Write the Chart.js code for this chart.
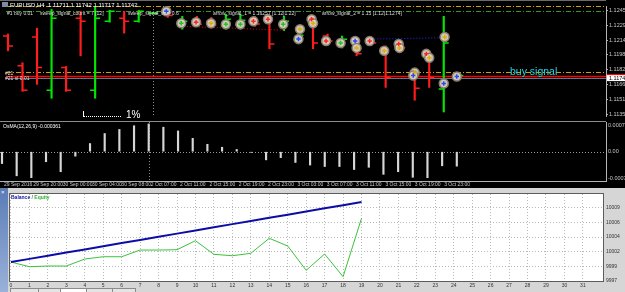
<!DOCTYPE html>
<html>
<head>
<meta charset="utf-8">
<title>EURUSD,H4 - tester</title>
<script src="https://cdn.jsdelivr.net/npm/chart.js@4.4.1/dist/chart.umd.min.js"></script>
<style>
  html, body { margin: 0; padding: 0; }
  body { width: 625px; height: 292px; overflow: hidden; background: #000; position: relative; font-family: "Liberation Sans", Arial, sans-serif; }
  canvas, .txt, .rule { position: absolute; }
  .txt { white-space: nowrap; line-height: 1; }
  #priceChart { left: 0; top: 0; }
  #osmaChart { left: 0; top: 121px; }
  #tester { position: absolute; left: 0; top: 188px; width: 625px; height: 104px; background: #d6d6d6; }
  #testerChart { left: 8px; top: 2px; }
  #dock { position: absolute; left: 0; top: 0; width: 8px; height: 104px; background: linear-gradient(#5a7cb6, #9ab2da); }
  .tab { position: absolute; top: 100px; height: 4px; border: 1px solid #8c8c8c; border-bottom: none; background: #e4e4e4; }
</style>
</head>
<body>
<canvas id="priceChart" width="625" height="122"></canvas>
<canvas id="osmaChart" width="625" height="67"></canvas>

<div class="rule" style="left:0;top:0;width:606px;height:1px;background:#6a6a6a"></div>
<div class="rule" style="left:0;top:121px;width:606px;height:1px;background:#8c8c8c"></div>

<div class="rule" style="left:2px;top:2px;width:6px;height:5px;background:#7c8aa6"></div>
<div class="txt" style="left:10px;top:2px;font-size:6px;color:#fff">EURUSD,H4&nbsp; 1.11711 1.11742 1.11717 1.11742</div>
<div class="txt" style="left:7px;top:11px;font-size:5px;color:#ddd">#1 buy 0.01</div>
<div class="txt" style="left:40px;top:11px;font-size:5px;color:#ddd">sweep_signal_count = 7 [12]</div>
<div class="txt" style="left:128px;top:11px;font-size:5px;color:#ddd">sweep_signal_sz = 0.6</div>
<div class="txt" style="left:213px;top:11px;font-size:5px;color:#ddd">arrow_signal_1 = 1.16257 [1.12|1.22]</div>
<div class="txt" style="left:322px;top:11px;font-size:5px;color:#ddd">arrow_signal_2 = 1.15 [1.12|1.1274]</div>
<div class="txt" style="left:5px;top:71px;font-size:5px;color:#ddd">#21</div>
<div class="txt" style="left:5px;top:76px;font-size:5px;color:#ddd">#21 sl 0.01</div>
<div class="rule" style="left:83px;top:111px;width:37px;height:5px;border-left:1px solid #fff;border-bottom:1px dotted #fff"></div>
<div class="txt" style="left:126px;top:110px;font-size:10px;color:#fff">1%</div>
<div class="txt" style="left:510px;top:66px;font-size:10.5px;color:#19d6e0">buy signal</div>
<div class="txt" style="left:3px;top:124px;font-size:5px;color:#fff">OsMA(12,26,9) -0.000361</div>

<div id="tester">
  <div id="dock"><div class="txt" style="left:1px;top:1px;font-size:6px;color:#fff">×</div></div>
  <canvas id="testerChart" width="617" height="98"></canvas>
  <div class="txt" style="left:11px;top:7px;font-size:5px;font-weight:bold"><span style="color:#1010a8">Balance</span> <span style="color:#666">/</span> <span style="color:#2eae2e">Equity</span></div>
  <div class="tab" style="left:10px;width:28px"></div>
  <div class="tab" style="left:38px;width:22px"></div>
  <div class="tab" style="left:60px;width:26px;background:#fff"></div>
  <div class="tab" style="left:86px;width:26px"></div>
  <div class="tab" style="left:112px;width:22px"></div>
</div>

<script>
// price bars, 2-hour bars, index 0 = 29 Sep 16:00
const openPrices  = [1.12183, 1.11869, 1.12172, 1.11607, 1.11848, 1.12371, 1.11607, 1.12340, 1.12371, 1.12340,
                     1.12424, 1.12430, 1.12290, 1.12340, 1.12340, 1.12290, 1.12300, 1.12370, 1.12360, 1.12290,
                     1.12140, 1.12370, 1.12183, 1.12100, 1.12150, 1.12140, 1.12060, 1.12110, 1.11795, 1.12005,
                     1.11620, 1.11754];
const highPrices  = [1.12204, 1.11900, 1.12267, 1.12465, 1.11860, 1.12445, 1.12497, 1.12455, 1.12445, 1.12455,
                     1.12432, 1.12455, 1.12392, 1.12392, 1.12380, 1.12413, 1.12413, 1.12392, 1.12392, 1.12392,
                     1.12230, 1.12392, 1.12204, 1.12183, 1.12162, 1.12172, 1.12078, 1.12140, 1.11820, 1.12015,
                     1.12392, 1.11770];
const lowPrices   = [1.12026, 1.11596, 1.11670, 1.11523, 1.11596, 1.11973, 1.11523, 1.12330, 1.12214, 1.12330,
                     1.12416, 1.12380, 1.12256, 1.12287, 1.12267, 1.12256, 1.12256, 1.12287, 1.12047, 1.12240,
                     1.12100, 1.12047, 1.12090, 1.12057, 1.11973, 1.12080, 1.11638, 1.12030, 1.11502, 1.11638,
                     1.11377, 1.11740];
const closePrices = [1.12078, 1.11607, 1.11848, 1.12371, 1.11607, 1.12340, 1.12371, 1.12445, 1.12340, 1.12445,
                     1.12424, 1.12400, 1.12340, 1.12308, 1.12300, 1.12360, 1.12350, 1.12310, 1.12099, 1.12340,
                     1.12190, 1.12110, 1.12130, 1.12150, 1.11994, 1.12110, 1.11743, 1.12060, 1.11628, 1.11743,
                     1.12110, 1.11764];

const priceTicks = [1.12455, 1.12298, 1.12140, 1.11983, 1.11825, 1.11668, 1.11510, 1.11353];
const levelPrices = [1.12497, 1.12448, 1.11806, 1.11760, 1.11740];
const bidPrice = 1.11742;
const weekStartBar = 10;

// trade arrows (bar position, price, kind)
const markerBars   = [10.9, 11.93, 12.95, 13.98, 15.0, 16.0, 16.9, 17.9, 18.95, 20.1, 20.0, 20.9, 21.0, 21.9,
                      22.9, 23.9, 24.0, 24.9, 25.9, 26.9, 26.95, 28.0, 27.9, 28.8, 29.0, 30.06, 30.0, 30.9];
const markerPrices = [1.12445, 1.12319, 1.12329, 1.12319, 1.12308, 1.12308, 1.12340, 1.12361, 1.12308, 1.12256,
                      1.12151, 1.12361, 1.12319, 1.12130, 1.12110, 1.12130, 1.12057, 1.12130, 1.12026, 1.12099,
                      1.12057, 1.11795, 1.11764, 1.11994, 1.11952, 1.12172, 1.11680, 1.11754];
const markerKinds  = ['buy', 'win', 'sell', 'close', 'win', 'win', 'sell', 'sell', 'win', 'close',
                      'buy', 'sell', 'close', 'sell', 'win', 'buy', 'close', 'sell', 'close', 'sell',
                      'close', 'close', 'buy', 'sell', 'close', 'close', 'buy', 'buy'];
const sellTradeBars = [11.9, 19.0];
const sellTradePrices = [1.12287, 1.12245];
const buyTradeBars = [24.6, 30.0];
const buyTradePrices = [1.12150, 1.12165];

// OsMA(12,26,9)
const osmaValues = [-0.00032, -0.00065, -0.00070, -0.00027, -0.00054, -0.00012, 0.00022, 0.00049, 0.00060, 0.00070,
                    0.00075, 0.00066, 0.00056, 0.00036, 0.00020, 0.00012, 0.00006, -0.00002, -0.00022, -0.00016,
                    -0.00029, -0.00036, -0.00040, -0.00040, -0.00048, -0.00042, -0.00061, -0.00054, -0.00069, -0.00070,
                    -0.00038, -0.00039];
const osmaTicks = [-0.00072, 0, 0.00072];
const osmaTickLabels = ['-0.00072', '0.00', '0.000720'];

const timeTickBars = [0, 2, 4, 6, 8, 10, 12, 14, 16, 18, 20, 22, 24, 26, 28, 30];
const timeLabels = ['29 Sep 2016', '29 Sep 20:00', '30 Sep 00:00', '30 Sep 04:00', '30 Sep 08:00',
                    '2 Oct 07:00', '2 Oct 11:00', '2 Oct 15:00', '2 Oct 19:00', '2 Oct 23:00',
                    '3 Oct 03:00', '3 Oct 07:00', '3 Oct 11:00', '3 Oct 15:00', '3 Oct 19:00', '3 Oct 23:00'];

// tester graph
const tradeNumbers = [0, 1, 2, 3, 4, 5, 6, 7, 8, 9, 10, 11, 12, 13, 14, 15, 16, 17, 18, 19];
const balanceValues = [10000.0, 10000.5, 10001.0, 10001.5, 10002.0, 10002.5, 10003.0, 10003.5, 10004.0, 10004.5,
                       10005.0, 10005.5, 10006.0, 10006.5, 10007.0, 10007.5, 10008.0, 10008.5, 10009.0, 10009.5];
const equityValues = [10000.0, 9999.26, 9999.37, 9999.37, 10000.48, 10000.84, 10000.84, 10001.90, 10001.90, 10001.95,
                      10003.38, 10001.22, 10001.00, 10001.38, 10003.76, 10002.54, 9998.69, 10001.27, 9997.68, 10006.92];
const testerTicks = [9997, 9999.32, 10001.64, 10003.96, 10006.28, 10008.6];
const testerTickLabels = ['9997', '9999', '10002', '10004', '10006', '10009'];
const testerXTicks = [0, 1, 2, 3, 4, 5, 6, 7, 8, 9, 10, 11, 12, 13, 14, 15, 16, 17, 18, 19, 20, 21, 22, 23, 24, 25,
                      26, 27, 28, 29, 30, 31];

const UP = '#00e600';
const DOWN = '#ff1c1c';
const AXIS = '#b4b4b4';
const markerColors = { buy: '#2a46ff', sell: '#ff2424', win: '#22c422', close: '#e0b000' };
const levelStyles = [
  { color: '#d2a000', dash: [5, 2, 1, 2], width: 1 },
  { color: '#3a9626', dash: [5, 2, 1, 2], width: 1 },
  { color: '#d2a000', dash: [5, 2, 1, 2], width: 1 },
  { color: '#ff0000', dash: [], width: 1.5 },
  { color: '#66738c', dash: [], width: 1 }
];
const tinyFont = { family: '"Liberation Sans", Arial, sans-serif', size: 5.5 };

Chart.defaults.animation = false;
Chart.defaults.plugins.legend.display = false;
Chart.defaults.plugins.tooltip.enabled = false;

const barX = openPrices.map((p, i) => i);

const separator = {
  id: 'separator',
  beforeDatasetsDraw(chart) {
    const { ctx, chartArea: a, scales: { x } } = chart;
    const px = Math.round(x.getPixelForValue(weekStartBar)) + 0.5;
    ctx.save();
    ctx.strokeStyle = '#8c8c8c';
    ctx.setLineDash([1, 2]);
    ctx.beginPath();
    ctx.moveTo(px, a.top);
    ctx.lineTo(px, a.bottom);
    ctx.stroke();
    ctx.restore();
  }
};

const priceExtras = {
  id: 'priceExtras',
  beforeDatasetsDraw(chart) {
    const { ctx, chartArea: a, scales: { y } } = chart;
    ctx.save();
    levelPrices.forEach((p, k) => {
      const st = levelStyles[k];
      const py = Math.round(y.getPixelForValue(p)) + 0.5;
      ctx.strokeStyle = st.color;
      ctx.lineWidth = st.width;
      ctx.setLineDash(st.dash);
      ctx.beginPath();
      ctx.moveTo(a.left, py);
      ctx.lineTo(a.right, py);
      ctx.stroke();
    });
    ctx.restore();
  },
  // open / close ticks right after the high-low bars
  afterDatasetDraw(chart, args) {
    if (args.index !== 0) return;
    const { ctx, scales: { x, y } } = chart;
    ctx.save();
    ctx.lineWidth = 1.5;
    openPrices.forEach((o, i) => {
      const px = x.getPixelForValue(i);
      const oy = y.getPixelForValue(o);
      const cy = y.getPixelForValue(closePrices[i]);
      ctx.strokeStyle = closePrices[i] >= o ? UP : DOWN;
      ctx.beginPath();
      ctx.moveTo(px - 5, oy);
      ctx.lineTo(px, oy);
      ctx.moveTo(px, cy);
      ctx.lineTo(px + 5, cy);
      ctx.stroke();
    });
    ctx.restore();
  },
  afterDraw(chart) {
    const { ctx, chartArea: a, scales: { y } } = chart;
    ctx.save();
    const ry = y.getPixelForValue(levelPrices[3]);
    ctx.fillStyle = '#ff0000';
    ctx.fillRect(a.right + 1, ry - 2, chart.width - a.right, 3);
    const by = y.getPixelForValue(bidPrice);
    ctx.fillStyle = '#ffffff';
    ctx.fillRect(a.right + 1, by - 2.5, chart.width - a.right, 6);
    ctx.fillStyle = '#000';
    ctx.font = '5.5px "Liberation Sans", Arial, sans-serif';
    ctx.textBaseline = 'middle';
    ctx.fillText(bidPrice.toFixed(5), a.right + 3, by + 0.5);
    ctx.restore();
  }
};

const plotBg = {
  id: 'plotBg',
  beforeDraw(chart) {
    const { ctx, chartArea: a } = chart;
    ctx.save();
    ctx.fillStyle = '#ffffff';
    ctx.fillRect(a.left, a.top, a.width, a.height);
    ctx.restore();
  },
  afterDraw(chart) {
    const { ctx, chartArea: a } = chart;
    ctx.save();
    ctx.strokeStyle = '#5c5c5c';
    ctx.lineWidth = 1;
    ctx.strokeRect(Math.round(a.left) - 0.5, Math.round(a.top) - 0.5, Math.round(a.width) + 1, Math.round(a.height) + 1);
    ctx.restore();
  }
};

// shared x range for price and OsMA panels (41 bar slots across 606 px)
const barRange = { type: 'linear', min: -0.136, max: 41.17, offset: false };

function fixRightAxis(width) {
  return function (s) { s.width = width; s.paddingTop = 0; s.paddingBottom = 0; };
}

new Chart(document.getElementById('priceChart'), {
  type: 'bar',
  data: {
    datasets: [
      {
        label: 'high-low',
        data: barX.map(i => ({ x: i, y: [lowPrices[i], highPrices[i]] })),
        backgroundColor: barX.map(i => closePrices[i] >= openPrices[i] ? UP : DOWN),
        barThickness: 1.5,
        order: 5
      },
      {
        type: 'line',
        label: 'sell trade',
        data: sellTradeBars.map((b, k) => ({ x: b, y: sellTradePrices[k] })),
        borderColor: '#e01010', borderWidth: 1, borderDash: [1, 2], pointRadius: 0,
        order: 4
      },
      {
        type: 'line',
        label: 'buy trade',
        data: buyTradeBars.map((b, k) => ({ x: b, y: buyTradePrices[k] })),
        borderColor: '#2030ff', borderWidth: 1, borderDash: [1, 2], pointRadius: 0,
        order: 4
      },
      {
        type: 'scatter',
        label: 'arrows',
        data: markerBars.map((b, k) => ({ x: b, y: markerPrices[k] })),
        pointStyle: 'circle', pointRadius: 4.5,
        backgroundColor: 'rgba(222,212,196,0.92)', borderColor: '#877d6d', borderWidth: 1.5,
        order: 2
      },
      {
        type: 'scatter',
        label: 'arrow marks',
        data: markerBars.map((b, k) => ({ x: b, y: markerPrices[k] })),
        pointStyle: 'cross', pointRadius: 2.2,
        borderColor: markerKinds.map(k => markerColors[k]), borderWidth: 1.5,
        order: 1
      }
    ]
  },
  options: {
    responsive: false,
    layout: { padding: 0 },
    scales: {
      x: Object.assign({ display: false }, barRange),
      y: {
        position: 'right',
        min: 1.113347, max: 1.125016,
        afterFit: fixRightAxis(19),
        afterBuildTicks: s => { s.ticks = priceTicks.map(v => ({ value: v })); },
        grid: { display: true, drawOnChartArea: false, tickLength: 2, color: AXIS },
        border: { display: true, color: AXIS },
        ticks: { color: '#c8c8c8', font: tinyFont, padding: 1, callback: v => v.toFixed(5) }
      }
    }
  },
  plugins: [separator, priceExtras]
});

new Chart(document.getElementById('osmaChart'), {
  type: 'bar',
  data: {
    datasets: [{
      label: 'OsMA',
      data: barX.map(i => ({ x: i, y: osmaValues[i] })),
      backgroundColor: '#d6d6d6',
      barThickness: 1.5
    }]
  },
  options: {
    responsive: false,
    layout: { padding: { top: 1 } },
    scales: {
      x: Object.assign({
        afterFit: s => { s.height = 7; s.paddingLeft = 0; s.paddingRight = 0; },
        afterBuildTicks: s => { s.ticks = timeTickBars.map(v => ({ value: v })); },
        grid: { display: true, drawOnChartArea: false, tickLength: 1, color: AXIS },
        border: { display: true, color: AXIS },
        ticks: {
          color: '#c8c8c8', font: { family: tinyFont.family, size: 5 }, padding: 0,
          align: 'start', labelOffset: 2, autoSkip: false, maxRotation: 0,
          callback: (v, i) => timeLabels[i]
        }
      }, barRange),
      y: {
        position: 'right',
        min: -0.00079, max: 0.000801,
        afterFit: fixRightAxis(19),
        afterBuildTicks: s => { s.ticks = osmaTicks.map(v => ({ value: v })); },
        grid: { display: true, drawOnChartArea: false, drawTicks: false, tickLength: 0 },
        border: { display: true, color: AXIS },
        ticks: { color: '#c8c8c8', font: tinyFont, padding: 2, callback: (v, i) => osmaTickLabels[i] }
      }
    }
  },
  plugins: [separator, {
    id: 'zeroDots',
    beforeDatasetsDraw(chart) {
      const { ctx, chartArea: a, scales: { y } } = chart;
      const py = Math.round(y.getPixelForValue(0)) + 0.5;
      ctx.save();
      ctx.strokeStyle = '#9a9a9a';
      ctx.setLineDash([1, 2]);
      ctx.beginPath();
      ctx.moveTo(a.left, py);
      ctx.lineTo(a.right, py);
      ctx.stroke();
      ctx.restore();
    }
  }]
});

new Chart(document.getElementById('testerChart'), {
  type: 'line',
  data: {
    datasets: [
      {
        label: 'Balance',
        data: tradeNumbers.map((n, k) => ({ x: n, y: balanceValues[k] })),
        borderColor: '#0c0ca6', borderWidth: 2, pointRadius: 0, tension: 0
      },
      {
        label: 'Equity',
        data: tradeNumbers.map((n, k) => ({ x: n, y: equityValues[k] })),
        borderColor: '#3cc23c', borderWidth: 1, pointRadius: 0, tension: 0
      }
    ]
  },
  options: {
    responsive: false,
    layout: { padding: { left: 2, top: 4 } },
    scales: {
      x: {
        type: 'linear', min: -0.054, max: 32.09,
        afterFit: s => { s.height = 7; s.paddingLeft = 0; s.paddingRight = 0; },
        afterBuildTicks: s => { s.ticks = testerXTicks.map(v => ({ value: v })); },
        grid: { color: '#b8b8b8', drawTicks: false, tickLength: 0 },
        border: { display: false, dash: [1, 2] },
        ticks: { color: '#333', font: { family: tinyFont.family, size: 5 }, padding: 2, autoSkip: false, maxRotation: 0 }
      },
      y: {
        position: 'right',
        min: 9997, max: 10010.77,
        afterFit: fixRightAxis(22),
        afterBuildTicks: s => { s.ticks = testerTicks.map(v => ({ value: v })); },
        grid: { color: '#b8b8b8', drawTicks: false, tickLength: 0 },
        border: { display: false, dash: [1, 2] },
        ticks: { color: '#333', font: { family: tinyFont.family, size: 5 }, padding: 3, callback: (v, i) => testerTickLabels[i] }
      }
    }
  },
  plugins: [plotBg]
});
</script>
</body>
</html>
